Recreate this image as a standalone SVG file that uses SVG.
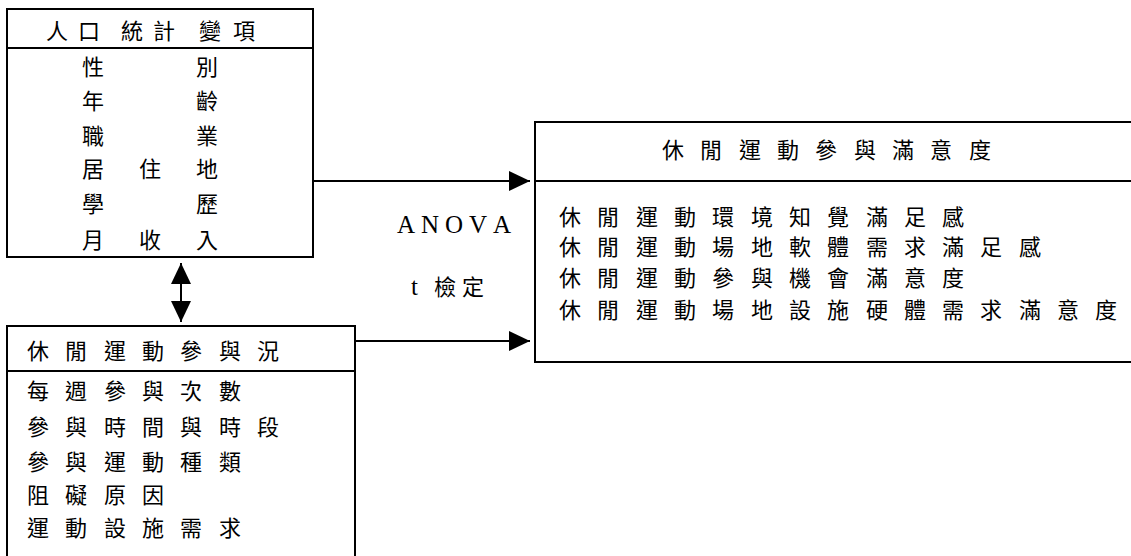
<svg xmlns="http://www.w3.org/2000/svg" width="1131" height="556" viewBox="0 0 1131 556">
<style>
  .box { fill: none; stroke: #000; stroke-width: 2; }
  .cjk { font-family: "Noto Sans CJK TC", "Noto Sans CJK SC", sans-serif; font-size: 22px; fill: #000; }
  .lat { font-family: "Liberation Serif", "Noto Sans CJK TC", serif; font-size: 25px; fill: #000; }
  .conn { stroke: #000; stroke-width: 2; fill: none; }
</style>
<defs>
  <marker id="arrow" markerUnits="userSpaceOnUse" markerWidth="22" markerHeight="22" refX="21" refY="10" orient="auto-start-reverse">
    <path d="M0,0 L21,10 L0,20 Z" fill="#000"/>
  </marker>
</defs>
<rect width="1131" height="556" fill="#fff"/>

<g id="node-demographics">
  <rect class="box" x="7" y="9" width="306" height="248"/>
  <line class="box" x1="7" y1="48" x2="313" y2="48"/>
  <text class="cjk" y="39" x="46 62 78 100 121 137 153 176 199 216 233">人 口 統 計 變 項</text>
  <text class="cjk" y="75" x="82 140 196">性 別</text>
  <text class="cjk" y="109" x="82 140 196">年 齡</text>
  <text class="cjk" y="144" x="82 140 196">職 業</text>
  <text class="cjk" y="177" x="82 110 139 168 196">居 住 地</text>
  <text class="cjk" y="212" x="82 140 196">學 歷</text>
  <text class="cjk" y="248" x="82 110 139 168 196">月 收 入</text>
</g>

<g id="node-participation">
  <path class="box" d="M7,600 V326 H355 V600"/>
  <line class="box" x1="7" y1="371" x2="355" y2="371"/>
  <text class="cjk" y="359" x="27 46 65 84 104 123 142 161 180 199 219 238 257">休 閒 運 動 參 與 況</text>
  <text class="cjk" y="399" x="27 46 65 84 104 123 142 161 180 199 219">每 週 參 與 次 數</text>
  <text class="cjk" y="435" x="27 46 65 84 104 123 142 161 180 199 219 238 257">參 與 時 間 與 時 段</text>
  <text class="cjk" y="470" x="27 46 65 84 104 123 142 161 180 199 219">參 與 運 動 種 類</text>
  <text class="cjk" y="503" x="27 46 65 84 104 123 142">阻 礙 原 因</text>
  <text class="cjk" y="536" x="27 46 65 84 104 123 142 161 180 199 219">運 動 設 施 需 求</text>
</g>

<g id="node-satisfaction">
  <path class="box" d="M1140,122 H535 V362 H1140"/>
  <line class="box" x1="535" y1="181" x2="1140" y2="181"/>
  <text class="cjk" y="158" x="662 681 700 719 739 758 777 796 815 834 854 873 892 911 930 949 969">休 閒 運 動 參 與 滿 意 度</text>
  <text class="cjk" y="225" x="559 578 597 616 636 655 674 693 712 731 751 770 789 808 827 846 866 885 904 923 942">休 閒 運 動 環 境 知 覺 滿 足 感</text>
  <text class="cjk" y="255" x="559 578 597 616 636 655 674 693 712 731 751 770 789 808 827 846 866 885 904 923 942 961 980 999 1019">休 閒 運 動 場 地 軟 體 需 求 滿 足 感</text>
  <text class="cjk" y="286" x="559 578 597 616 636 655 674 693 712 731 751 770 789 808 827 846 866 885 904 923 942">休 閒 運 動 參 與 機 會 滿 意 度</text>
  <text class="cjk" y="318" x="559 578 597 616 636 655 674 693 712 731 751 770 789 808 827 846 866 885 904 923 942 961 980 999 1019 1038 1057 1076 1095">休 閒 運 動 場 地 設 施 硬 體 需 求 滿 意 度</text>
</g>

<g id="connectors">
  <line class="conn" x1="313" y1="181" x2="530" y2="181" marker-end="url(#arrow)"/>
  <line class="conn" x1="355" y1="341" x2="530" y2="341" marker-end="url(#arrow)"/>
  <line class="conn" x1="181" y1="263" x2="181" y2="322" marker-start="url(#arrow)" marker-end="url(#arrow)"/>
  <text class="lat" y="233" x="397 414 421 438 445 462 469 486 493">A N O V A</text>
  <text class="lat" y="295" x="411 424 434 452 462"><tspan class="lat">t</tspan><tspan class="cjk"> 檢 定</tspan></text>
</g>
</svg>
